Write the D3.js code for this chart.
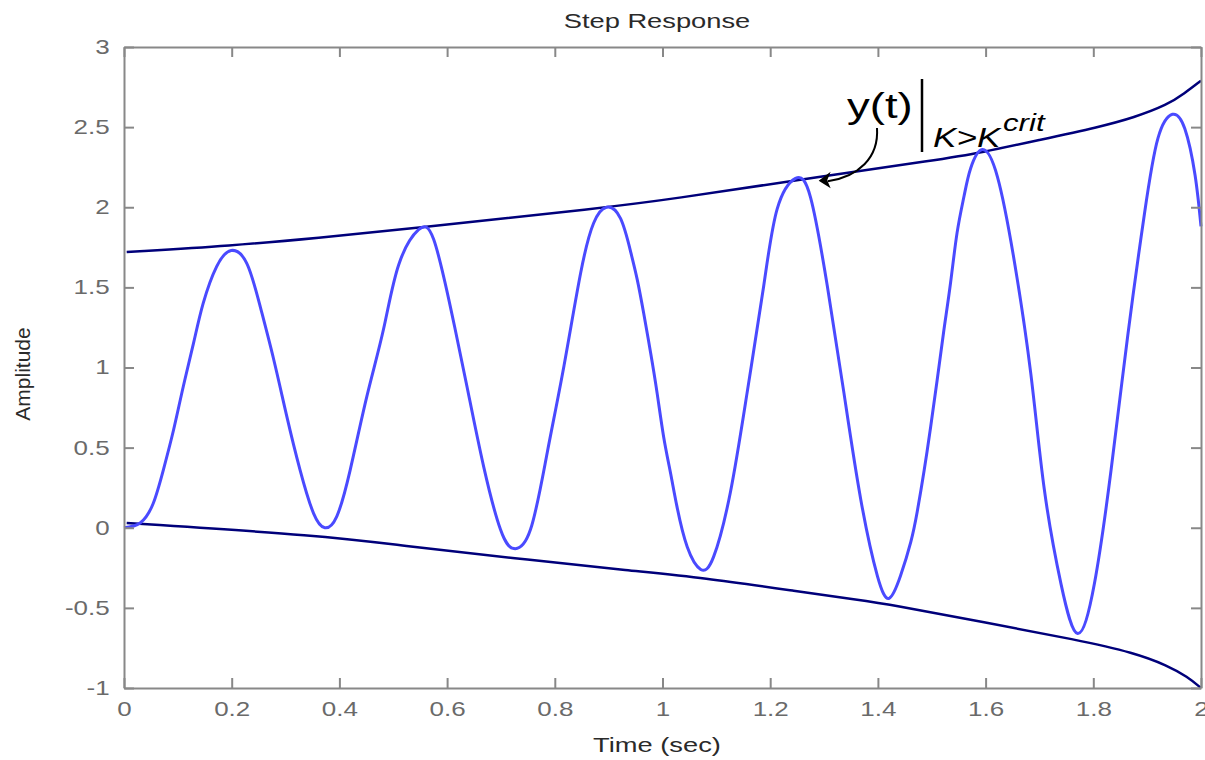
<!DOCTYPE html>
<html>
<head>
<meta charset="utf-8">
<script src="https://cdn.jsdelivr.net/npm/d3@7"></script>
<style>
    html, body { margin: 0; padding: 0; background: #fff; }
    svg { display: block; font-family: "Liberation Sans", Arial, sans-serif; }
</style>
</head>
<body>
<svg id="chart"></svg>
<script>
// Step response, K > K crit

const timeTicks = [0, 0.2, 0.4, 0.6, 0.8, 1, 1.2, 1.4, 1.6, 1.8, 2];
const ampTicks = [-1, -0.5, 0, 0.5, 1, 1.5, 2, 2.5, 3];

const responseT = [0.000, 0.030, 0.054, 0.073, 0.092, 0.110, 0.129, 0.147, 0.172, 0.199,
    0.228, 0.253, 0.278, 0.302, 0.327, 0.352, 0.373, 0.395, 0.420, 0.451,
    0.482, 0.510, 0.547, 0.575, 0.606, 0.637, 0.668, 0.699, 0.724, 0.755,
    0.786, 0.817, 0.848, 0.872, 0.896, 0.922, 0.941, 0.953, 0.965, 0.978,
    0.990, 1.002, 1.015, 1.027, 1.046, 1.071, 1.095, 1.126, 1.157, 1.188,
    1.213, 1.247, 1.275, 1.306, 1.337, 1.368, 1.399, 1.421,
    1.442, 1.461, 1.473, 1.486, 1.498, 1.510, 1.522, 1.535, 1.547, 1.560,
    1.572, 1.594, 1.622, 1.653, 1.684, 1.709, 1.740, 1.771, 1.802, 1.833,
    1.864, 1.895, 1.920, 1.947, 1.970, 1.989, 2.000];
const responseY = [0.00, 0.03, 0.15, 0.36, 0.61, 0.88, 1.15, 1.40, 1.63, 1.73,
    1.65, 1.38, 1.05, 0.70, 0.36, 0.09, 0.00, 0.07, 0.36, 0.82,
    1.24, 1.64, 1.86, 1.80, 1.38, 0.88, 0.38, -0.01, -0.13, -0.01,
    0.47, 1.01, 1.59, 1.90, 2.00, 1.93, 1.72, 1.55, 1.34, 1.09,
    0.84, 0.57, 0.34, 0.13, -0.12, -0.26, -0.18, 0.22, 0.84, 1.51,
    1.99, 2.18, 2.06, 1.51, 0.84, 0.18, -0.30, -0.44,
    -0.30, -0.09, 0.10, 0.36, 0.63, 0.92, 1.22, 1.53, 1.84, 2.07,
    2.24, 2.36, 2.19, 1.67, 0.96, 0.24, -0.35, -0.66, -0.35, 0.36,
    1.20, 1.96, 2.43, 2.58, 2.49, 2.20, 1.88];

const upperT = [0.005, 0.2, 0.364, 0.513, 0.9, 1.015, 1.25, 1.52, 1.59, 1.70, 1.81, 1.876, 1.938, 1.969, 2.0];
const upperY = [1.72, 1.76, 1.81, 1.86, 2.00, 2.05, 2.17, 2.30, 2.34, 2.42, 2.50, 2.56, 2.64, 2.71, 2.79];

const lowerT = [0.005, 0.372, 0.513, 0.724, 0.947, 1.071, 1.257, 1.362, 1.424, 1.597, 1.771, 1.876, 1.938, 1.975, 2.0];
const lowerY = [0.03, -0.05, -0.11, -0.19, -0.27, -0.31, -0.40, -0.45, -0.48, -0.59, -0.70, -0.78, -0.86, -0.93, -1.0];

const WIDTH = 1205, HEIGHT = 760;
const PLOT = {left: 124, right: 1201, top: 47, bottom: 688};
const AXIS_GREY = "#888888";
const LABEL_GREY = "#6a6a6a";
const STRETCH = 1.3;   // glyphs in the picture are wide

const svg = d3.select("#chart").attr("width", WIDTH).attr("height", HEIGHT);

const xScale = d3.scaleLinear().domain([0, 2]).range([PLOT.left, PLOT.right]);
const yScale = d3.scaleLinear().domain([-1, 3]).range([PLOT.bottom, PLOT.top]);

function styleAxis(g) {
    g.select(".domain").attr("stroke", AXIS_GREY).attr("stroke-width", 2);
    g.selectAll(".tick line").attr("stroke", AXIS_GREY).attr("stroke-width", 2);
    g.selectAll(".tick text")
        .attr("fill", LABEL_GREY)
        .attr("font-size", 20)
        .attr("font-family", "'Liberation Sans', Arial, sans-serif")
        .attr("transform", "scale(" + STRETCH + ",1)");
}

function drawAxes() {
    const fmt = d => String(d);

    svg.append("g")
        .attr("transform", "translate(0," + PLOT.bottom + ")")
        .call(d3.axisBottom(xScale).tickValues(timeTicks).tickFormat(fmt)
            .tickSizeInner(-10).tickSizeOuter(0).tickPadding(14))
        .call(styleAxis);

    svg.append("g")
        .attr("transform", "translate(0," + PLOT.top + ")")
        .call(d3.axisTop(xScale).tickValues(timeTicks).tickFormat("")
            .tickSizeInner(-10).tickSizeOuter(0))
        .call(styleAxis);

    svg.append("g")
        .attr("transform", "translate(" + PLOT.left + ",0)")
        .call(d3.axisLeft(yScale).tickValues(ampTicks).tickFormat(fmt)
            .tickSizeInner(-10).tickSizeOuter(0).tickPadding(11))
        .call(styleAxis);

    svg.append("g")
        .attr("transform", "translate(" + PLOT.right + ",0)")
        .call(d3.axisRight(yScale).tickValues(ampTicks).tickFormat("")
            .tickSizeInner(-10).tickSizeOuter(0))
        .call(styleAxis);
}

function drawLines() {
    const envelope = d3.line()
        .x(d => xScale(d[0]))
        .y(d => yScale(d[1]))
        .curve(d3.curveBasis);

    const response = d3.line()
        .x(d => xScale(d[0]))
        .y(d => yScale(d[1]))
        .curve(d3.curveNatural);

    [[upperT, upperY], [lowerT, lowerY]].forEach(([ts, vs]) => {
        svg.append("path")
            .datum(d3.zip(ts, vs))
            .attr("fill", "none")
            .attr("stroke", "#00007a")
            .attr("stroke-width", 2.5)
            .attr("d", envelope);
    });

    svg.append("path")
        .datum(d3.zip(responseT, responseY))
        .attr("fill", "none")
        .attr("stroke", "#4a4aff")
        .attr("stroke-width", 3)
        .attr("stroke-linejoin", "round")
        .attr("d", response);
}

function stretchedText(x, y, str, size, opts = {}) {
    return svg.append("text")
        .attr("transform", "translate(" + x + "," + y + ") scale(" + (opts.sx || STRETCH) + ",1)")
        .attr("text-anchor", opts.anchor || "start")
        .attr("font-size", size)
        .attr("font-style", opts.italic ? "italic" : "normal")
        .attr("fill", opts.fill || "#000")
        .text(str);
}

function drawLabels() {
    stretchedText(657, 28, "Step Response", 21, {anchor: "middle", fill: "#2a2a2a"});
    stretchedText(657, 752, "Time (sec)", 21, {anchor: "middle", fill: "#2a2a2a"});

    svg.append("text")
        .attr("transform", "translate(30,374) rotate(-90) scale(1.05,1)")
        .attr("text-anchor", "middle")
        .attr("font-size", 20)
        .attr("fill", "#2a2a2a")
        .text("Amplitude");
}

function drawAnnotation() {
    stretchedText(847, 118, "y(t)", 35);
    svg.append("line")
        .attr("x1", 922).attr("x2", 922)
        .attr("y1", 79).attr("y2", 152)
        .attr("stroke", "#000").attr("stroke-width", 2.5);
    stretchedText(933, 147, "K>K", 27, {italic: true});
    stretchedText(1003, 131, "crit", 24, {italic: true});

    // arrow pointing at the upper envelope
    const tipX = xScale(1.29), tipY = yScale(2.165);
    svg.append("path")
        .attr("d", "M877,128 C879,158 858,177 " + (tipX + 9) + "," + (tipY + 0.5))
        .attr("fill", "none")
        .attr("stroke", "#000")
        .attr("stroke-width", 2);
    svg.append("path")
        .attr("d", "M" + tipX + "," + tipY + " l12,-9 l-3.5,8.5 l3.5,8 z")
        .attr("fill", "#000");
}

drawLines();
drawAxes();
drawLabels();
drawAnnotation();
</script>
</body>
</html>
